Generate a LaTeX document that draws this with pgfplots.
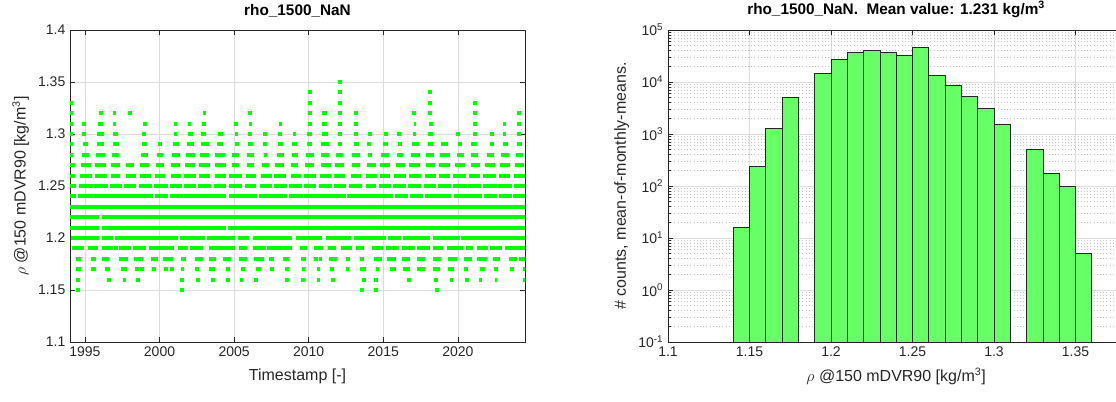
\documentclass[border=0pt]{standalone}
\usepackage{pgfplots}
\pgfplotsset{compat=1.18}
\usepackage{fontspec}
\setmainfont{Liberation Sans}
\definecolor{gpt}{rgb}{0,1,0}
\definecolor{barg}{rgb}{0.4,1,0.4}
\definecolor{axc}{rgb}{0.15,0.15,0.15}
\pgfplotsset{
  seg/.style={color=gpt, line width=3pt, line cap=butt, forget plot, mark=none},
  common/.style={
    scale only axis, anchor=south west,
    axis line style={axc, line width=0.6pt},
    tick style={axc, line width=0.5pt},
    major tick length=4pt, minor tick length=2pt,
    tick label style={font=\fontsize{10.5}{12}\selectfont, text=axc},
    label style={font=\fontsize{12}{14}\selectfont, text=axc},
    title style={font=\fontsize{11.5}{13}\selectfont\bfseries},
    xlabel style={yshift=-2pt},
    /pgf/number format/assume math mode=true,
    major grid style={gray!28, line width=0.5pt},
    minor grid style={gray!45, line width=0.4pt, dotted},
  }
}
\begin{document}
\begin{tikzpicture}
\useasboundingbox (0,0) rectangle (837pt,300.75pt);
\begin{axis}[common,
  at={(52.5pt,44.25pt)}, width=341.25pt, height=234pt,
  xmin=1994.0, xmax=2024.5, ymin=1.1, ymax=1.4,
  xtick={1995,2000,2005,2010,2015,2020}, xticklabels={1995,2000,2005,2010,2015,2020},
  ytick={1.1,1.15,1.2,1.25,1.3,1.35,1.4}, yticklabels={1.1,1.15,1.2,1.25,1.3,1.35,1.4},
  grid=major, unbounded coords=jump,
  title={rho\_1500\_NaN},
  xlabel={Timestamp [-]},
  ylabel={$\rho$ @150 mDVR90 [kg/m\textsuperscript{3}]},
]
\addplot[seg] coordinates {(2011.94,1.35)(2012.20,1.35)};
\addplot[seg] coordinates {(2009.93,1.34)(2010.19,1.34)(0,nan)(2011.94,1.34)(2012.20,1.34)(0,nan)(2018.03,1.34)(2018.29,1.34)};
\addplot[seg] coordinates {(1993.94,1.33)(1994.20,1.33)(0,nan)(2009.93,1.33)(2010.19,1.33)(0,nan)(2011.94,1.33)(2012.20,1.33)(0,nan)(2018.03,1.33)(2018.29,1.33)(0,nan)(2021.01,1.33)(2021.27,1.33)};
\addplot[seg] coordinates {(1993.94,1.32)(1994.20,1.32)(0,nan)(1995.97,1.32)(1996.19,1.32)(0,nan)(1996.85,1.32)(1997.11,1.32)(0,nan)(1997.90,1.32)(1998.16,1.32)(0,nan)(2002.90,1.32)(2003.13,1.32)(0,nan)(2005.93,1.32)(2006.19,1.32)(0,nan)(2009.93,1.32)(2010.19,1.32)(0,nan)(2010.91,1.32)(2011.25,1.32)(0,nan)(2011.94,1.32)(2012.20,1.32)(0,nan)(2013.06,1.32)(2013.32,1.32)(0,nan)(2016.91,1.32)(2017.17,1.32)(0,nan)(2018.03,1.32)(2018.29,1.32)(0,nan)(2021.01,1.32)(2021.27,1.32)(0,nan)(2023.96,1.32)(2024.22,1.32)};
\addplot[seg] coordinates {(1993.94,1.31)(1994.20,1.31)(0,nan)(1994.83,1.31)(1995.09,1.31)(0,nan)(1995.86,1.31)(1996.19,1.31)(0,nan)(1996.85,1.31)(1997.11,1.31)(0,nan)(1998.90,1.31)(1999.16,1.31)(0,nan)(2000.94,1.31)(2001.20,1.31)(0,nan)(2001.88,1.31)(2002.14,1.31)(0,nan)(2002.86,1.31)(2003.13,1.31)(0,nan)(2005.01,1.31)(2005.27,1.31)(0,nan)(2005.99,1.31)(2006.21,1.31)(0,nan)(2007.98,1.31)(2008.24,1.31)(0,nan)(2009.97,1.31)(2010.20,1.31)(0,nan)(2010.91,1.31)(2011.25,1.31)(0,nan)(2011.94,1.31)(2012.20,1.31)(0,nan)(2013.06,1.31)(2013.32,1.31)(0,nan)(2017.04,1.31)(2017.18,1.31)(0,nan)(2018.07,1.31)(2018.30,1.31)(0,nan)(2021.01,1.31)(2021.27,1.31)(0,nan)(2023.04,1.31)(2023.22,1.31)(0,nan)(2023.96,1.31)(2024.22,1.31)};
\addplot[seg] coordinates {(1993.94,1.30)(1994.20,1.30)(0,nan)(1994.83,1.30)(1995.09,1.30)(0,nan)(1995.79,1.30)(1996.31,1.30)(0,nan)(1996.86,1.30)(1997.20,1.30)(0,nan)(1998.83,1.30)(1999.10,1.30)(0,nan)(2000.94,1.30)(2001.16,1.30)(0,nan)(2001.90,1.30)(2002.23,1.30)(0,nan)(2002.79,1.30)(2003.13,1.30)(0,nan)(2003.91,1.30)(2004.25,1.30)(0,nan)(2005.05,1.30)(2005.27,1.30)(0,nan)(2005.94,1.30)(2006.21,1.30)(0,nan)(2006.93,1.30)(2007.19,1.30)(0,nan)(2007.96,1.30)(2008.23,1.30)(0,nan)(2008.94,1.30)(2009.12,1.30)(0,nan)(2009.90,1.30)(2010.24,1.30)(0,nan)(2010.87,1.30)(2011.31,1.30)(0,nan)(2011.94,1.30)(2012.20,1.30)(0,nan)(2013.04,1.30)(2013.33,1.30)(0,nan)(2013.96,1.30)(2014.22,1.30)(0,nan)(2015.08,1.30)(2015.34,1.30)(0,nan)(2015.93,1.30)(2016.19,1.30)(0,nan)(2016.99,1.30)(2017.22,1.30)(0,nan)(2018.00,1.30)(2018.30,1.30)(0,nan)(2019.89,1.30)(2020.15,1.30)(0,nan)(2021.01,1.30)(2021.27,1.30)(0,nan)(2022.13,1.30)(2022.39,1.30)(0,nan)(2023.04,1.30)(2023.22,1.30)(0,nan)(2023.96,1.30)(2024.22,1.30)};
\addplot[seg] coordinates {(1993.94,1.29)(1994.20,1.29)(0,nan)(1994.90,1.29)(1995.19,1.29)(0,nan)(1995.79,1.29)(1996.31,1.29)(0,nan)(1996.86,1.29)(1997.27,1.29)(0,nan)(1998.83,1.29)(1999.15,1.29)(0,nan)(1999.91,1.29)(2000.17,1.29)(0,nan)(2000.89,1.29)(2001.29,1.29)(0,nan)(2001.83,1.29)(2002.28,1.29)(0,nan)(2002.79,1.29)(2003.31,1.29)(0,nan)(2003.84,1.29)(2004.25,1.29)(0,nan)(2005.05,1.29)(2005.32,1.29)(0,nan)(2005.94,1.29)(2006.26,1.29)(0,nan)(2006.93,1.29)(2007.19,1.29)(0,nan)(2007.96,1.29)(2008.27,1.29)(0,nan)(2008.90,1.29)(2009.23,1.29)(0,nan)(2009.90,1.29)(2010.24,1.29)(0,nan)(2010.80,1.29)(2011.36,1.29)(0,nan)(2011.99,1.29)(2012.21,1.29)(0,nan)(2013.04,1.29)(2013.37,1.29)(0,nan)(2013.91,1.29)(2014.17,1.29)(0,nan)(2014.98,1.29)(2015.32,1.29)(0,nan)(2015.99,1.29)(2016.28,1.29)(0,nan)(2016.95,1.29)(2017.40,1.29)(0,nan)(2018.00,1.29)(2018.30,1.29)(0,nan)(2018.90,1.29)(2019.35,1.29)(0,nan)(2020.02,1.29)(2020.31,1.29)(0,nan)(2020.91,1.29)(2021.29,1.29)(0,nan)(2022.13,1.29)(2022.39,1.29)(0,nan)(2023.04,1.29)(2023.37,1.29)(0,nan)(2023.98,1.29)(2024.27,1.29)};
\addplot[seg] coordinates {(1994.02,1.28)(1994.22,1.28)(0,nan)(1994.81,1.28)(1995.30,1.28)(0,nan)(1995.75,1.28)(1996.37,1.28)(0,nan)(1996.82,1.28)(1997.31,1.28)(0,nan)(1998.77,1.28)(1999.21,1.28)(0,nan)(1999.82,1.28)(2000.26,1.28)(0,nan)(2000.85,1.28)(2001.34,1.28)(0,nan)(2001.79,1.28)(2002.35,1.28)(0,nan)(2002.73,1.28)(2003.35,1.28)(0,nan)(2003.75,1.28)(2004.36,1.28)(0,nan)(2004.87,1.28)(2005.32,1.28)(0,nan)(2005.88,1.28)(2006.33,1.28)(0,nan)(2007.00,1.28)(2007.22,1.28)(0,nan)(2007.89,1.28)(2008.34,1.28)(0,nan)(2008.90,1.28)(2009.30,1.28)(0,nan)(2009.79,1.28)(2010.35,1.28)(0,nan)(2010.80,1.28)(2011.36,1.28)(0,nan)(2011.81,1.28)(2012.30,1.28)(0,nan)(2012.92,1.28)(2013.42,1.28)(0,nan)(2014.00,1.28)(2014.22,1.28)(0,nan)(2014.87,1.28)(2015.39,1.28)(0,nan)(2015.92,1.28)(2016.33,1.28)(0,nan)(2016.89,1.28)(2017.45,1.28)(0,nan)(2017.89,1.28)(2018.39,1.28)(0,nan)(2018.83,1.28)(2019.46,1.28)(0,nan)(2019.91,1.28)(2020.40,1.28)(0,nan)(2020.85,1.28)(2021.36,1.28)(0,nan)(2021.92,1.28)(2022.41,1.28)(0,nan)(2022.86,1.28)(2023.44,1.28)(0,nan)(2023.89,1.28)(2024.38,1.28)};
\addplot[seg] coordinates {(1994.02,1.27)(1994.36,1.27)(0,nan)(1994.74,1.27)(1995.41,1.27)(0,nan)(1995.70,1.27)(1996.42,1.27)(0,nan)(1996.75,1.27)(1997.36,1.27)(0,nan)(1997.76,1.27)(1998.32,1.27)(0,nan)(1998.70,1.27)(1999.28,1.27)(0,nan)(1999.77,1.27)(2000.33,1.27)(0,nan)(2000.78,1.27)(2001.38,1.27)(0,nan)(2001.74,1.27)(2002.41,1.27)(0,nan)(2002.68,1.27)(2003.40,1.27)(0,nan)(2003.69,1.27)(2004.43,1.27)(0,nan)(2004.83,1.27)(2005.36,1.27)(0,nan)(2005.88,1.27)(2006.33,1.27)(0,nan)(2006.88,1.27)(2007.33,1.27)(0,nan)(2007.73,1.27)(2008.34,1.27)(0,nan)(2008.79,1.27)(2009.30,1.27)(0,nan)(2009.75,1.27)(2010.35,1.27)(0,nan)(2010.80,1.27)(2011.47,1.27)(0,nan)(2011.76,1.27)(2012.37,1.27)(0,nan)(2012.88,1.27)(2013.42,1.27)(0,nan)(2013.93,1.27)(2014.49,1.27)(0,nan)(2014.81,1.27)(2015.43,1.27)(0,nan)(2015.88,1.27)(2016.44,1.27)(0,nan)(2016.73,1.27)(2017.45,1.27)(0,nan)(2017.89,1.27)(2018.45,1.27)(0,nan)(2018.74,1.27)(2019.50,1.27)(0,nan)(2019.79,1.27)(2020.47,1.27)(0,nan)(2020.85,1.27)(2021.47,1.27)(0,nan)(2021.81,1.27)(2022.48,1.27)(0,nan)(2022.81,1.27)(2023.49,1.27)(0,nan)(2023.82,1.27)(2024.43,1.27)};
\addplot[seg] coordinates {(1994.02,1.26)(1994.36,1.26)(0,nan)(1994.67,1.26)(1995.48,1.26)(0,nan)(1995.70,1.26)(1996.46,1.26)(0,nan)(1996.75,1.26)(1997.36,1.26)(0,nan)(1997.76,1.26)(1998.43,1.26)(0,nan)(1998.70,1.26)(1999.44,1.26)(0,nan)(1999.73,1.26)(2000.40,1.26)(0,nan)(2000.78,1.26)(2001.45,1.26)(0,nan)(2001.67,1.26)(2002.46,1.26)(0,nan)(2002.64,1.26)(2003.40,1.26)(0,nan)(2003.69,1.26)(2004.43,1.26)(0,nan)(2004.69,1.26)(2005.50,1.26)(0,nan)(2005.77,1.26)(2006.44,1.26)(0,nan)(2006.77,1.26)(2007.51,1.26)(0,nan)(2007.67,1.26)(2008.45,1.26)(0,nan)(2008.79,1.26)(2009.46,1.26)(0,nan)(2009.68,1.26)(2010.46,1.26)(0,nan)(2010.73,1.26)(2011.47,1.26)(0,nan)(2011.69,1.26)(2012.43,1.26)(0,nan)(2012.81,1.26)(2013.48,1.26)(0,nan)(2013.86,1.26)(2014.60,1.26)(0,nan)(2014.76,1.26)(2015.48,1.26)(0,nan)(2015.70,1.26)(2016.51,1.26)(0,nan)(2016.73,1.26)(2017.56,1.26)(0,nan)(2017.78,1.26)(2018.52,1.26)(0,nan)(2018.74,1.26)(2019.50,1.26)(0,nan)(2019.68,1.26)(2020.53,1.26)(0,nan)(2020.76,1.26)(2021.47,1.26)(0,nan)(2021.70,1.26)(2022.55,1.26)(0,nan)(2022.77,1.26)(2023.49,1.26)(0,nan)(2023.75,1.26)(2024.49,1.26)};
\addplot[seg] coordinates {(1994.02,1.25)(1994.40,1.25)(0,nan)(1994.63,1.25)(1995.52,1.25)(0,nan)(1995.63,1.25)(1996.53,1.25)(0,nan)(1996.68,1.25)(1997.49,1.25)(0,nan)(1997.65,1.25)(1998.43,1.25)(0,nan)(1998.61,1.25)(1999.50,1.25)(0,nan)(1999.66,1.25)(2000.56,1.25)(0,nan)(2000.71,1.25)(2001.52,1.25)(0,nan)(2001.67,1.25)(2002.46,1.25)(0,nan)(2002.57,1.25)(2003.46,1.25)(0,nan)(2003.62,1.25)(2004.47,1.25)(0,nan)(2004.69,1.25)(2005.54,1.25)(0,nan)(2005.72,1.25)(2006.48,1.25)(0,nan)(2006.71,1.25)(2007.56,1.25)(0,nan)(2007.67,1.25)(2008.56,1.25)(0,nan)(2008.67,1.25)(2009.57,1.25)(0,nan)(2009.68,1.25)(2010.51,1.25)(0,nan)(2010.69,1.25)(2011.54,1.25)(0,nan)(2011.69,1.25)(2012.48,1.25)(0,nan)(2012.70,1.25)(2013.60,1.25)(0,nan)(2013.82,1.25)(2014.54,1.25)(0,nan)(2014.68,1.25)(2015.54,1.25)(0,nan)(2015.66,1.25)(2016.55,1.25)(0,nan)(2016.66,1.25)(2017.56,1.25)(0,nan)(2017.71,1.25)(2018.56,1.25)(0,nan)(2018.68,1.25)(2019.57,1.25)(0,nan)(2019.68,1.25)(2020.58,1.25)(0,nan)(2020.69,1.25)(2021.58,1.25)(0,nan)(2021.70,1.25)(2022.59,1.25)(0,nan)(2022.70,1.25)(2023.60,1.25)(0,nan)(2023.75,1.25)(2024.49,1.25)};
\addplot[seg] coordinates {(1994.02,1.24)(1994.40,1.24)(0,nan)(1994.52,1.24)(1995.57,1.24)(0,nan)(1995.63,1.24)(1997.54,1.24)(0,nan)(1997.58,1.24)(1999.59,1.24)(0,nan)(1999.68,1.24)(2000.58,1.24)(0,nan)(2000.71,1.24)(2001.56,1.24)(0,nan)(2001.67,1.24)(2004.47,1.24)(0,nan)(2004.65,1.24)(2006.55,1.24)(0,nan)(2006.66,1.24)(2008.56,1.24)(0,nan)(2008.67,1.24)(2009.61,1.24)(0,nan)(2009.68,1.24)(2012.48,1.24)(0,nan)(2012.59,1.24)(2015.66,1.24)(0,nan)(2015.77,1.24)(2016.66,1.24)(0,nan)(2016.77,1.24)(2017.67,1.24)(0,nan)(2017.78,1.24)(2019.57,1.24)(0,nan)(2019.73,1.24)(2021.65,1.24)(0,nan)(2021.74,1.24)(2022.64,1.24)(0,nan)(2022.73,1.24)(2023.60,1.24)(0,nan)(2023.71,1.24)(2024.49,1.24)};
\addplot[seg] coordinates {(1994.02,1.23)(2024.49,1.23)};
\addplot[seg] coordinates {(1994.02,1.22)(1995.97,1.22)(0,nan)(1996.15,1.22)(2024.49,1.22)};
\addplot[seg] coordinates {(1994.02,1.21)(1995.97,1.21)(0,nan)(1996.15,1.21)(2004.47,1.21)(0,nan)(2004.60,1.21)(2024.49,1.21)};
\addplot[seg] coordinates {(1994.07,1.20)(1995.97,1.20)(0,nan)(1996.15,1.20)(1996.91,1.20)(0,nan)(1997.04,1.20)(2001.23,1.20)(0,nan)(2001.34,1.20)(2003.02,1.20)(0,nan)(2003.18,1.20)(2005.09,1.20)(0,nan)(2005.27,1.20)(2005.99,1.20)(0,nan)(2006.26,1.20)(2008.90,1.20)(0,nan)(2009.17,1.20)(2010.91,1.20)(0,nan)(2011.14,1.20)(2012.81,1.20)(0,nan)(2013.04,1.20)(2015.21,1.20)(0,nan)(2015.32,1.20)(2016.21,1.20)(0,nan)(2016.33,1.20)(2018.12,1.20)(0,nan)(2018.30,1.20)(2020.13,1.20)(0,nan)(2020.24,1.20)(2024.49,1.20)};
\addplot[seg] coordinates {(1994.13,1.19)(1994.96,1.19)(0,nan)(1995.19,1.19)(1995.86,1.19)(0,nan)(1996.15,1.19)(1996.91,1.19)(0,nan)(1996.96,1.19)(1997.22,1.19)(0,nan)(1997.27,1.19)(1998.09,1.19)(0,nan)(1998.21,1.19)(1999.10,1.19)(0,nan)(1999.28,1.19)(2000.94,1.19)(0,nan)(2001.23,1.19)(2001.90,1.19)(0,nan)(2002.05,1.19)(2002.90,1.19)(0,nan)(2003.31,1.19)(2005.09,1.19)(0,nan)(2005.32,1.19)(2005.88,1.19)(0,nan)(2006.26,1.19)(2007.11,1.19)(0,nan)(2007.22,1.19)(2008.27,1.19)(0,nan)(2008.34,1.19)(2008.90,1.19)(0,nan)(2009.39,1.19)(2009.90,1.19)(0,nan)(2010.35,1.19)(2010.96,1.19)(0,nan)(2011.31,1.19)(2011.85,1.19)(0,nan)(2012.14,1.19)(2012.92,1.19)(0,nan)(2013.15,1.19)(2013.71,1.19)(0,nan)(2014.27,1.19)(2014.98,1.19)(0,nan)(2015.21,1.19)(2016.06,1.19)(0,nan)(2016.28,1.19)(2017.11,1.19)(0,nan)(2017.27,1.19)(2018.12,1.19)(0,nan)(2018.30,1.19)(2019.01,1.19)(0,nan)(2019.24,1.19)(2020.35,1.19)(0,nan)(2020.53,1.19)(2021.02,1.19)(0,nan)(2021.25,1.19)(2022.03,1.19)(0,nan)(2022.14,1.19)(2022.99,1.19)(0,nan)(2023.15,1.19)(2024.49,1.19)};
\addplot[seg] coordinates {(1994.40,1.18)(1994.74,1.18)(0,nan)(1995.41,1.18)(1995.75,1.18)(0,nan)(1996.15,1.18)(1996.64,1.18)(0,nan)(1997.31,1.18)(1997.87,1.18)(0,nan)(1998.32,1.18)(1998.88,1.18)(0,nan)(1999.44,1.18)(1999.88,1.18)(0,nan)(2000.22,1.18)(2000.89,1.18)(0,nan)(2001.45,1.18)(2001.79,1.18)(0,nan)(2002.35,1.18)(2002.90,1.18)(0,nan)(2003.35,1.18)(2003.80,1.18)(0,nan)(2004.25,1.18)(2004.76,1.18)(0,nan)(2005.36,1.18)(2005.88,1.18)(0,nan)(2006.33,1.18)(2007.00,1.18)(0,nan)(2007.33,1.18)(2007.67,1.18)(0,nan)(2008.27,1.18)(2008.67,1.18)(0,nan)(2009.46,1.18)(2009.79,1.18)(0,nan)(2010.38,1.18)(2010.64,1.18)(0,nan)(2010.69,1.18)(2010.91,1.18)(0,nan)(2011.36,1.18)(2011.92,1.18)(0,nan)(2012.48,1.18)(2012.75,1.18)(0,nan)(2013.42,1.18)(2013.71,1.18)(0,nan)(2014.38,1.18)(2014.94,1.18)(0,nan)(2015.25,1.18)(2015.83,1.18)(0,nan)(2016.28,1.18)(2016.77,1.18)(0,nan)(2017.27,1.18)(2017.78,1.18)(0,nan)(2018.30,1.18)(2018.90,1.18)(0,nan)(2019.35,1.18)(2019.91,1.18)(0,nan)(2020.40,1.18)(2020.98,1.18)(0,nan)(2021.29,1.18)(2021.92,1.18)(0,nan)(2022.37,1.18)(2022.81,1.18)(0,nan)(2023.44,1.18)(2023.93,1.18)(0,nan)(2024.11,1.18)(2024.49,1.18)};
\addplot[seg] coordinates {(1994.40,1.17)(1994.74,1.17)(0,nan)(1995.41,1.17)(1995.75,1.17)(0,nan)(1996.37,1.17)(1996.68,1.17)(0,nan)(1997.42,1.17)(1997.80,1.17)(0,nan)(1998.39,1.17)(1998.65,1.17)(0,nan)(1998.70,1.17)(1998.96,1.17)(0,nan)(1999.50,1.17)(1999.77,1.17)(0,nan)(2000.31,1.17)(2000.57,1.17)(0,nan)(2000.72,1.17)(2000.98,1.17)(0,nan)(2001.45,1.17)(2001.67,1.17)(0,nan)(2002.35,1.17)(2002.68,1.17)(0,nan)(2003.35,1.17)(2003.69,1.17)(0,nan)(2004.47,1.17)(2004.73,1.17)(0,nan)(2005.43,1.17)(2005.72,1.17)(0,nan)(2006.44,1.17)(2006.77,1.17)(0,nan)(2007.38,1.17)(2007.67,1.17)(0,nan)(2008.43,1.17)(2008.69,1.17)(0,nan)(2009.57,1.17)(2009.75,1.17)(0,nan)(2010.58,1.17)(2010.73,1.17)(0,nan)(2011.45,1.17)(2011.71,1.17)(0,nan)(2012.48,1.17)(2012.70,1.17)(0,nan)(2013.42,1.17)(2013.82,1.17)(0,nan)(2014.54,1.17)(2014.71,1.17)(0,nan)(2015.43,1.17)(2015.83,1.17)(0,nan)(2016.33,1.17)(2016.77,1.17)(0,nan)(2017.27,1.17)(2017.53,1.17)(0,nan)(2017.58,1.17)(2017.80,1.17)(0,nan)(2018.34,1.17)(2018.79,1.17)(0,nan)(2019.35,1.17)(2019.73,1.17)(0,nan)(2020.40,1.17)(2020.66,1.17)(0,nan)(2021.47,1.17)(2021.81,1.17)(0,nan)(2022.41,1.17)(2022.70,1.17)(0,nan)(2023.49,1.17)(2023.75,1.17)(0,nan)(2024.34,1.17)(2024.60,1.17)};
\addplot[seg] coordinates {(1994.43,1.16)(1994.69,1.16)(0,nan)(1996.47,1.16)(1996.73,1.16)(0,nan)(1997.52,1.16)(1997.78,1.16)(0,nan)(1998.41,1.16)(1998.67,1.16)(0,nan)(2001.39,1.16)(2001.65,1.16)(0,nan)(2002.44,1.16)(2002.70,1.16)(0,nan)(2003.45,1.16)(2003.71,1.16)(0,nan)(2004.47,1.16)(2004.73,1.16)(0,nan)(2005.37,1.16)(2005.63,1.16)(0,nan)(2006.35,1.16)(2006.61,1.16)(0,nan)(2008.43,1.16)(2008.69,1.16)(0,nan)(2009.48,1.16)(2009.74,1.16)(0,nan)(2010.58,1.16)(2010.73,1.16)(0,nan)(2011.50,1.16)(2011.76,1.16)(0,nan)(2013.60,1.16)(2013.86,1.16)(0,nan)(2014.41,1.16)(2014.67,1.16)(0,nan)(2016.60,1.16)(2016.86,1.16)(0,nan)(2018.43,1.16)(2018.69,1.16)(0,nan)(2019.44,1.16)(2019.70,1.16)(0,nan)(2020.49,1.16)(2020.75,1.16)(0,nan)(2021.39,1.16)(2021.65,1.16)(0,nan)(2022.48,1.16)(2022.64,1.16)(0,nan)(2024.34,1.16)(2024.60,1.16)};
\addplot[seg] coordinates {(1994.43,1.15)(1994.69,1.15)(0,nan)(2001.39,1.15)(2001.65,1.15)(0,nan)(2013.47,1.15)(2013.73,1.15)(0,nan)(2014.41,1.15)(2014.67,1.15)(0,nan)(2018.48,1.15)(2018.74,1.15)};
\end{axis}
\begin{axis}[common,
  at={(501pt,44.25pt)}, width=342.3pt, height=234pt,
  xmin=1.1, xmax=1.38, ymode=log, ymin=0.1, ymax=1e5, log origin y=infty,
  xtick={1.1,1.15,1.2,1.25,1.3,1.35}, xticklabels={1.1,1.15,1.2,1.25,1.3,1.35},
  ytick={0.1,1,10,100,1000,10000,100000},
  yticklabels={10\textsuperscript{-1},10\textsuperscript{0},10\textsuperscript{1},10\textsuperscript{2},10\textsuperscript{3},10\textsuperscript{4},10\textsuperscript{5}},
  grid=both, minor x tick num=0,
  title={rho\_1500\_NaN.\ \ Mean value: 1.231 kg/m\textsuperscript{3}},
  xlabel={$\rho$ @150 mDVR90 [kg/m\textsuperscript{3}]},
  ylabel={\# counts, mean-of-monthly-means.},
]
\addplot[ybar, bar width=0.01, fill=barg, draw=black!85, line width=0.6pt] coordinates {
(1.145,15.9)(1.155,238)(1.165,1290)(1.175,5000)
(1.195,14360)(1.205,27000)(1.215,36300)(1.225,40200)(1.235,36700)(1.245,33200)(1.255,46500)(1.265,13600)(1.275,8570)(1.285,5200)(1.295,3160)(1.305,1560)
(1.325,500)(1.335,174)(1.345,97)(1.355,5.05)};
\end{axis}
\end{tikzpicture}
\end{document}
